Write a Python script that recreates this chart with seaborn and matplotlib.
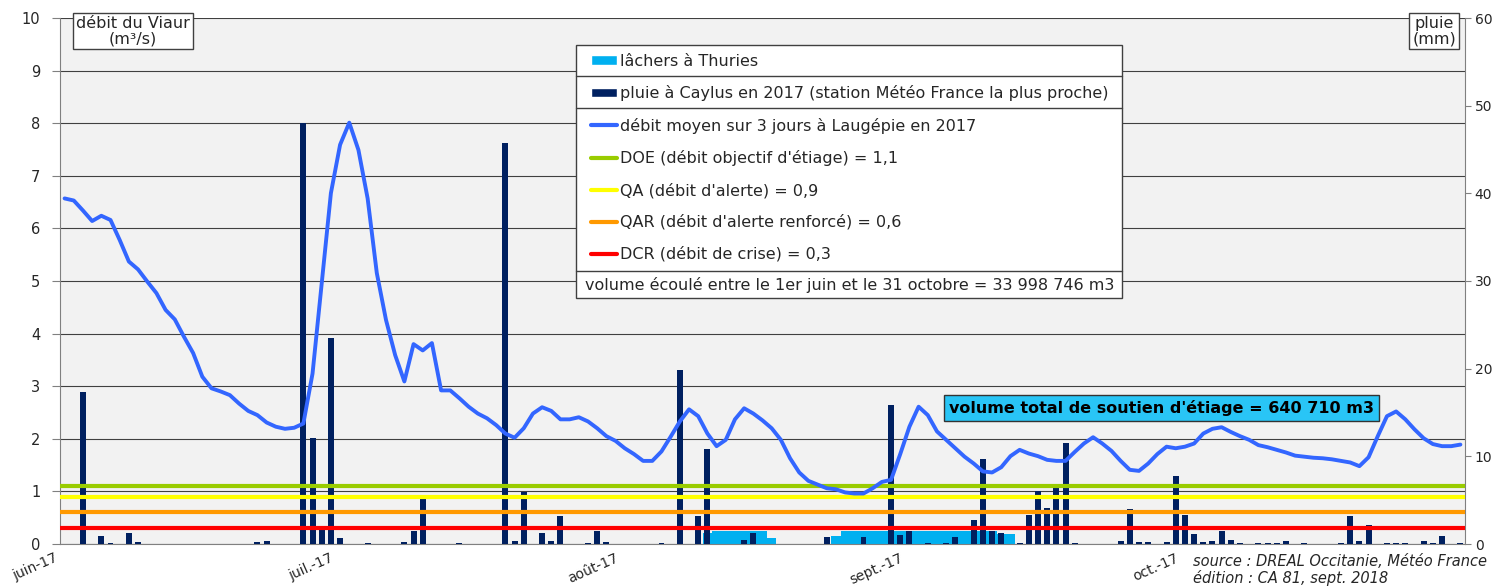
import numpy as np
import pandas as pd
import matplotlib
matplotlib.use("Agg")
import matplotlib.pyplot as plt
import seaborn as sns
from matplotlib.patches import Patch, Rectangle
from matplotlib.lines import Line2D

# période : du 1er juin au 31 octobre 2017
jours = pd.date_range("2017-06-01", "2017-10-31", freq="D")

# débit moyen sur 3 jours à Laugépie (m3/s), un point par jour
debit = [6.57, 6.53, 6.34, 6.14, 6.24, 6.16, 5.78, 5.37, 5.22, 4.99,
         4.77, 4.45, 4.27, 3.94, 3.63, 3.18, 2.96, 2.90, 2.83, 2.67,
         2.53, 2.45, 2.31, 2.23, 2.19, 2.21, 2.29, 3.24, 4.96, 6.67,
         7.59, 8.01, 7.49, 6.57, 5.15, 4.26, 3.59, 3.09, 3.80, 3.68,
         3.82, 2.92, 2.92, 2.77, 2.61, 2.48, 2.39, 2.26, 2.10, 2.02,
         2.20, 2.48, 2.60, 2.53, 2.37, 2.37, 2.41, 2.33, 2.20, 2.05,
         1.96, 1.82, 1.71, 1.58, 1.58, 1.76, 2.04, 2.33, 2.56, 2.43,
         2.10, 1.86, 1.98, 2.37, 2.58, 2.48, 2.35, 2.20, 1.98, 1.63,
         1.36, 1.20, 1.13, 1.06, 1.04, 0.98, 0.96, 0.96, 1.06, 1.18,
         1.22, 1.71, 2.23, 2.61, 2.45, 2.14, 1.98, 1.82, 1.66, 1.53,
         1.38, 1.36, 1.46, 1.67, 1.79, 1.72, 1.67, 1.60, 1.58, 1.58,
         1.75, 1.91, 2.03, 1.91, 1.77, 1.58, 1.41, 1.39, 1.53, 1.71,
         1.85, 1.82, 1.85, 1.91, 2.10, 2.19, 2.22, 2.13, 2.05, 1.98,
         1.88, 1.84, 1.79, 1.74, 1.68, 1.66, 1.64, 1.63, 1.61, 1.58,
         1.55, 1.48, 1.65, 2.05, 2.43, 2.52, 2.37, 2.18, 2.01, 1.90,
         1.86, 1.86, 1.89]

# pluie à Caylus (mm), jours de pluie seulement
pluie_dates = ["06-03", "06-05", "06-06", "06-08", "06-09", "06-22", "06-23",
               "06-27", "06-28", "06-29", "06-30", "07-01", "07-04", "07-08",
               "07-09", "07-10", "07-14", "07-19", "07-20", "07-21", "07-23",
               "07-24", "07-25", "07-28", "07-29", "07-30", "08-05", "08-07",
               "08-09", "08-10", "08-14", "08-15", "08-23", "08-27", "08-30",
               "08-31", "09-01", "09-03", "09-05", "09-06", "09-08", "09-09",
               "09-10", "09-11", "09-13", "09-14", "09-15", "09-16", "09-17",
               "09-18", "09-19", "09-24", "09-25", "09-26", "09-27", "09-29",
               "09-30", "10-01", "10-02", "10-03", "10-04", "10-05", "10-06",
               "10-07", "10-09", "10-10", "10-11", "10-12", "10-14", "10-18",
               "10-19", "10-20", "10-21", "10-23", "10-24", "10-25", "10-27",
               "10-28", "10-29", "10-31"]
pluie_mm = [17.3, 0.9, 0.15, 1.3, 0.2, 0.2, 0.35,
            48.0, 12.1, 2.05, 23.5, 0.65, 0.15, 0.2,
            1.5, 5.6, 0.15, 45.7, 0.3, 5.9, 1.3,
            0.3, 3.2, 0.15, 1.5, 0.2, 0.15, 19.9,
            3.2, 10.8, 0.5, 1.3, 0.8, 0.8, 15.9,
            1.0, 1.5, 0.15, 0.15, 0.85, 2.7, 9.7,
            1.5, 1.3, 0.15, 3.3, 6.1, 4.1, 6.35,
            11.5, 0.15, 0.35, 3.95, 0.2, 0.2, 0.2,
            7.7, 3.3, 1.15, 0.2, 0.35, 1.5, 0.5,
            0.15, 0.15, 0.15, 0.15, 0.35, 0.15, 0.15,
            3.2, 0.35, 2.2, 0.15, 0.15, 0.15, 0.35,
            0.15, 0.9, 0.15]

# lâchers à Thuries (m3/s)
lachers_dates = ["08-10", "08-11", "08-12", "08-13", "08-14", "08-15", "08-16",
                 "08-17", "08-24", "08-25", "08-26", "08-27", "08-28", "08-29",
                 "08-30", "08-31", "09-01", "09-02", "09-03", "09-04", "09-05",
                 "09-06", "09-07", "09-08", "09-09", "09-10", "09-11", "09-12"]
lachers_m3s = [0.20, 0.24, 0.24, 0.24, 0.24, 0.24, 0.24,
               0.11, 0.15, 0.24, 0.24, 0.24, 0.24, 0.24,
               0.24, 0.24, 0.24, 0.24, 0.24, 0.24, 0.24,
               0.24, 0.24, 0.24, 0.24, 0.24, 0.19, 0.19]

# seuils réglementaires
seuils_labels = ["DOE (débit objectif d'étiage) = 1,1",
                 "QA (débit d'alerte) = 0,9",
                 "QAR (débit d'alerte renforcé) = 0,6",
                 "DCR (débit de crise) = 0,3"]
seuils_valeurs = [1.1, 0.9, 0.6, 0.3]
seuils_couleurs = ["#99CC00", "#FFFF00", "#FF9900", "#FF0000"]

mois_labels = ["juin-17", "juil.-17", "août-17", "sept.-17", "oct.-17"]

# table journalière
df = pd.DataFrame({"jour": jours.strftime("%Y-%m-%d"), "debit": debit})
pluie = pd.Series(pluie_mm, index=pd.to_datetime(["2017-" + d for d in pluie_dates]))
df["pluie"] = pluie.reindex(jours, fill_value=0).values
lachers = pd.Series(lachers_m3s, index=pd.to_datetime(["2017-" + d for d in lachers_dates]))
df["lachers"] = lachers.reindex(jours, fill_value=0).values

sns.set_style("white")
plt.rcParams["font.family"] = ["DejaVu Sans"]

W, H = 1495, 586
fig = plt.figure(figsize=(W / 100, H / 100), dpi=100)
ax = fig.add_axes([60 / W, 42 / H, 1405 / W, 526 / H])
ax_pluie = ax.twinx()
ax_debit = ax.twinx()

C_LACHERS = "#00B0F0"
C_PLUIE = "#002060"
C_DEBIT = "#3366FF"
C_TXT = "#262626"
FS = 11.5

# fond + lâchers (échelle gauche)
ax.set_facecolor("#F2F2F2")
sns.barplot(data=df, x="jour", y="lachers", color=C_LACHERS, saturation=1,
            width=1.0, linewidth=0, errorbar=None, ax=ax)

# pluie (échelle droite)
sns.barplot(data=df, x="jour", y="pluie", color=C_PLUIE, saturation=1,
            width=0.65, linewidth=0, errorbar=None, ax=ax_pluie)

# seuils + débit (échelle gauche, au premier plan)
for v, c in zip(seuils_valeurs, seuils_couleurs):
    ax_debit.axhline(v, color=c, lw=3)
sns.lineplot(x=np.arange(len(df)), y=df["debit"], color=C_DEBIT, lw=2.8, ax=ax_debit)

n = len(df)
for a in (ax, ax_pluie, ax_debit):
    a.set_xlim(-0.5, n - 0.5)
    a.set_xlabel("")
    a.set_ylabel("")

ax.set_ylim(0, 10)
ax_debit.set_ylim(0, 10)
ax_pluie.set_ylim(0, 60)

debuts_mois = [i - 0.5 for i, d in enumerate(jours) if d.day == 1]
ax.set_xticks(debuts_mois)
ax.set_xticklabels(mois_labels, rotation=24, ha="right", va="top")
ax.set_yticks(range(0, 11))
ax_pluie.set_yticks(range(0, 61, 10))
ax_debit.set_yticks([])

ax.yaxis.grid(True, color="#404040", lw=0.8)
ax.set_axisbelow(True)

ax.tick_params(axis="x", length=4, color="#808080", labelsize=10, labelcolor=C_TXT, pad=1)
ax.tick_params(axis="y", length=6, color="#808080", labelsize=10.5, labelcolor=C_TXT, pad=8)
ax_pluie.tick_params(axis="y", length=4, color="#808080", labelsize=10, labelcolor=C_TXT, pad=3)

for s in ("top", "right"):
    ax.spines[s].set_visible(False)
for s in ("left", "bottom"):
    ax.spines[s].set_color("#808080")
for s in ("top", "left", "bottom"):
    ax_pluie.spines[s].set_visible(False)
ax_pluie.spines["right"].set_color("#808080")
for s in ax_debit.spines.values():
    s.set_visible(False)

# titres des axes en encadré
box = dict(boxstyle="square,pad=0.2", fc="white", ec="#404040", lw=1)
fig.text(133 / W, 1 - 31 / H, "débit du Viaur\n(m³/s)", ha="center", va="center",
         fontsize=FS, color=C_TXT, bbox=box, linespacing=1.05)
fig.text(1434 / W, 1 - 31 / H, "pluie\n(mm)", ha="center", va="center",
         fontsize=FS, color=C_TXT, bbox=box, linespacing=1.05)

# cadre de légende
fig.patches.append(Rectangle((576 / W, 1 - 298 / H), 546 / W, 253 / H,
                             transform=fig.transFigure, fc="white", ec="#404040",
                             lw=1, zorder=3))
for y in (76, 107.5, 270.5):
    fig.lines.append(Line2D([576 / W, 1122 / W], [1 - y / H, 1 - y / H],
                            transform=fig.transFigure, color="#404040", lw=1, zorder=4))

handles = [Patch(fc=C_LACHERS), Patch(fc=C_PLUIE), Line2D([], [], color=C_DEBIT, lw=3)]
handles += [Line2D([], [], color=c, lw=3) for c in seuils_couleurs]
labels = ["lâchers à Thuries",
          "pluie à Caylus en 2017 (station Météo France la plus proche)",
          "débit moyen sur 3 jours à Laugépie en 2017"] + seuils_labels
leg = fig.legend(handles, labels, loc="center left", bbox_to_anchor=(591 / W, 1 - 157.8 / H),
                 frameon=False, fontsize=FS, handlelength=1.63, handleheight=0.55,
                 handletextpad=0.19, labelspacing=1.03, borderpad=0, borderaxespad=0)
leg.set_zorder(6)
for t in leg.get_texts():
    t.set_color(C_TXT)

fig.text(585 / W, 1 - 285 / H,
         "volume écoulé entre le 1er juin et le 31 octobre = 33 998 746 m3",
         ha="left", va="center", fontsize=FS, color=C_TXT, zorder=6)

fig.text(1161.6 / W, 1 - 408 / H, "volume total de soutien d'étiage = 640 710 m3",
         ha="center", va="center", fontsize=FS, fontweight="bold", color="black",
         bbox=dict(boxstyle="square,pad=0.3", fc="#29C5F6", ec="#333333", lw=1))

fig.text(1193 / W, 1 - 561 / H, "source : DREAL Occitanie, Météo France",
         ha="left", va="center", fontsize=10.5, style="italic", color=C_TXT)
fig.text(1193 / W, 1 - 578 / H, "édition : CA 81, sept. 2018",
         ha="left", va="center", fontsize=10.5, style="italic", color=C_TXT)

fig.savefig("out.png", dpi=100)
